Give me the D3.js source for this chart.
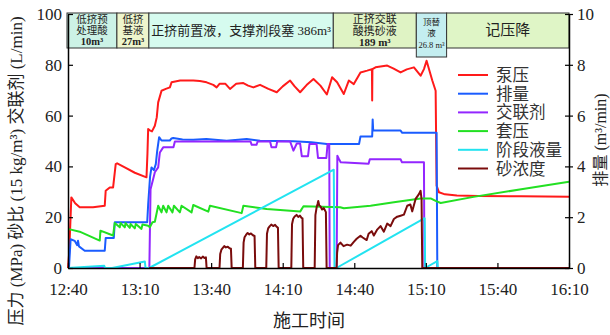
<!doctype html>
<html>
<head>
<meta charset="UTF-8">
<title>施工曲线</title>
<script src="https://cdn.jsdelivr.net/npm/d3@7"></script>
<style>
    body { margin: 0; background: #fff; }
    svg { font-family: "Liberation Serif", "Noto Sans CJK SC", serif; }
</style>
</head>
<body>
<svg width="610" height="335"></svg>
<script>
// time in minutes after 12:40
var timeTicks = [0, 30, 60, 90, 120, 150, 180, 210];
var timeLabels = ["12:40", "13:10", "13:40", "14:10", "14:40", "15:10", "15:40", "16:10"];
var leftTicks = [0, 20, 40, 60, 80, 100];
var rightTicks = [0, 2, 4, 6, 8, 10];

var seriesNames = ["泵压", "排量", "交联剂", "套压", "阶段液量", "砂浓度"];
var seriesColors = ["#ff1a1a", "#1a5cff", "#9326ff", "#22e022", "#22e3f0", "#7a0c0c"];

// stage band
var stageStart = [-0.5, 20.5, 33.9, 111.2, 146, 158.7];
var stageEnd = [20.5, 33.9, 111.2, 146, 158.7, 210];
var stageFill = ["#ccf2e6", "#eef5cc", "#d6fbef", "#dff3c4", "#c4eef0", "#dff5c6"];
var stageText = [
    ["低挤预", "处理酸", "10m³"],
    ["低挤", "基液", "27m³"],
    ["正挤前置液，支撑剂段塞 386m³"],
    ["正挤交联", "酸携砂液", "189 m³"],
    ["顶替", "液", "26.8 m³"],
    ["记压降"]
];

var pumpPressure = [[0,0],[0.5,6],[1.4,27.8],[3,25.5],[4.9,23.9],[10.5,23.9],[15.4,24.5],[15.8,30.4],[17.5,31.7],[18.9,31.7],
    [20,40.9],[20.6,41.2],[24,39.5],[28,37.5],[32.9,35.7],[33.3,45],[33.6,54.7],[34.3,54.2],[35.2,53.8],[36.4,56],
    [37.2,59.3],[37.8,65.2],[39.2,69.8],[41,70.5],[42.7,71.1],[43.4,73.1],[47,73.8],[52.5,73.8],[55.3,73.6],[58.1,73.1],
    [60.9,72.1],[62.3,71.1],[63.5,72.5],[66,72.5],[67.9,70.5],[70.5,72.5],[73.5,72.8],[75.5,71.8],[77.7,71.1],[80.5,72.1],
    [84,70.5],[87.5,69.2],[90,71.5],[93.1,73.8],[95,71.5],[97.3,69.2],[100,72],[102.9,74.4],[105.8,71.8],[108.5,68.3],
    [110.7,75.1],[112.8,73.1],[115.6,68.5],[117.7,73.8],[119.8,72.4],[122.6,77],[125.4,77.7],[127.4,78.3],[127.5,65.9],[127.6,78.3],
    [128.9,79],[133.8,79.7],[136.5,78.5],[139.4,77],[142,78.2],[145,79],[147.8,75.7],[149.2,78.3],[150.3,81.6],[152.7,73.8],
    [154.1,69.8],[154.5,32.4],[155.5,29.8],[158,29],[163,28.5],[172,28.3],[190,28.2],[210,28.1]];

var rate = [[0,0],[0.4,0],[1.1,1.13],[2.8,1.07],[3.8,0.9],[4.2,1.07],[4.6,0.85],[7,0.68],[15.4,0.68],[15.8,1.18],
    [19.2,1.18],[19.6,1.8],[33.2,1.8],[33.6,2.5],[34.4,3.6],[35,3.96],[36,3.85],[36.8,4.09],[37.4,4.62],[38.2,5.15],
    [39.2,5.02],[42.7,5.02],[43.4,5.1],[44.1,5.12],[48,5.06],[52.5,5.05],[58,5.08],[66.5,5.01],[74.9,5.08],[80.5,5.01],
    [88,5.0],[94.5,4.99],[102,4.95],[108.5,4.88],[122,4.88],[122.6,5.18],[127.5,5.18],[127.7,5.85],[127.9,5.45],[128.2,5.41],
    [139.4,5.41],[140.1,5.32],[154.5,5.32],[154.8,0],[210,0]];

var crosslinker = [[0,0],[34.1,0],[34.6,31],[35.7,35],[36.4,37.7],[37.8,39.6],[38.5,45.5],[39.9,47.5],[44.2,47.5],[44.8,49.8],
    [60,49.8],[76.5,49.8],[77,48.5],[79,48.5],[79.5,49.8],[84.7,49.8],[85.3,47.5],[87.2,47.5],[87.7,49.8],[93.1,49.8],
    [94.5,46.2],[95.9,49],[97.3,49],[98,44],[100.6,44],[101.2,48.8],[104.2,48.8],[104.8,43.3],[108.3,43.3],[108.8,48.8],
    [109.5,48.8],[109.7,0],[112.6,0],[112.9,44.2],[113.5,43],[114.3,41.6],[126,41],[126.5,42.8],[139.4,42.8],[140,41.6],
    [149.2,41.6],[149.4,0],[210,0]];

var casingPressure = [[0.4,15.3],[4.9,14.3],[13.3,10.8],[13.6,14.7],[18.9,12.8],[19.6,17.7],[21.7,16],[22,17.7],[23.8,16],[24.1,17.7],
    [25.9,15.8],[26.2,17.3],[28,15.6],[28.4,17.3],[30.8,15.4],[31.2,17.1],[33.6,16.6],[34.3,16],[35.4,18],[36.4,18.2],
    [37.8,24.5],[39.2,21.9],[39.9,24.5],[41.3,21.9],[42,24.5],[43.8,21.9],[44.4,24.5],[46.9,21.9],[47.6,24.5],[51.8,21.9],
    [52.5,24.8],[58.8,22.2],[59.5,24.5],[72.8,21.6],[73.5,24.5],[83.3,23.2],[97.3,22.2],[98.7,24.3],[114.1,23.9],[115.6,23.5],
    [126.8,24.5],[136.6,25.9],[147.8,27.4],[152,27.4],[154.1,26.4],[156.2,25.6],[170,28],[190,31],[210,34]];

var stageVolume = [[0,0],[15.2,0.9],[15.5,0],[18.5,0],[32.2,2.6],[32.5,0],[34,0],[111.4,38.7],[111.7,0],[112.5,0],
    [149.5,19.6],[149.7,0],[154.8,2.7],[155,0],[210,0]];

var sandRatio = [[34,0],[53,0],[53.3,3.4],[53.8,4.6],[54.4,3.9],[55,4.3],[55.8,3.8],[56.5,4.5],[57.2,3.9],[57.8,4.2],[58.1,0],
    [63.5,0],[63.8,5.5],[64.3,7.2],[64.9,7.9],[65.5,8.6],[66.2,8.1],[67,8.4],[67.7,7.8],[68.3,7.6],[68.6,0],
    [73.3,0],[73.6,10],[74,12.1],[74.6,13],[75.3,13.8],[76,13.2],[76.7,13.6],[77.5,12.9],[78.2,12.6],[78.5,0],
    [83.1,0],[83.4,13.5],[83.9,15.6],[84.5,16.4],[85.2,17.1],[86,16.5],[86.8,17],[87.5,16.2],[88,15.8],[88.3,0],
    [93.6,0],[93.9,17.2],[94.4,19.4],[95,20.3],[95.8,20.9],[96.5,20.1],[97.2,20.6],[97.9,19.7],[98.3,19.5],[98.6,0],
    [103.4,0],[103.7,20.8],[104.2,23.8],[104.6,25.2],[104.9,26.4],[105.3,24.6],[105.8,24.3],[106.5,23],[107.2,23.6],[108.1,22],[108.4,0],
    [112.6,0],[112.8,6],[113.2,9],[114.2,10],[115.5,8.6],[117,9.2],
    [118.5,8.8],[119.8,10.3],[121,11.5],[122.6,12.7],[123.5,12],[125.2,11],[126,13.5],[127.3,14.5],[128.2,12.8],[129.5,15],
    [131,16.5],[132.4,14.3],[133.8,17.5],[135.2,16.5],[136.6,19.3],[138,20.2],[139.4,20.6],[140.8,21],[142.2,24.5],[143.5,25],
    [144.3,22.3],[145.7,27.2],[147.1,29.1],[147.8,30.4],[148.2,27],[148.5,0],[210,0]];

var svg = d3.select("svg");
var plotL = 68, plotR = 569, plotT = 14, plotB = 268;

var x = d3.scaleLinear().domain([0, 210]).range([plotL, plotR]);
var yL = d3.scaleLinear().domain([0, 100]).range([plotB, plotT]);
var yR = d3.scaleLinear().domain([0, 10]).range([plotB, plotT]);

// series
var data = [
    {vals: pumpPressure, y: yL},
    {vals: rate, y: yR},
    {vals: crosslinker, y: yL},
    {vals: casingPressure, y: yL},
    {vals: stageVolume, y: yL},
    {vals: sandRatio, y: yL}
];
data.forEach(function(d, i) {
    var line = d3.line()
        .x(function(p) { return x(p[0]); })
        .y(function(p) { return d.y(p[1]); });
    svg.append("path")
        .attr("d", line(d.vals))
        .attr("fill", "none")
        .attr("stroke", seriesColors[i])
        .attr("stroke-width", 2)
        .attr("stroke-linejoin", "round");
});

// stage band
var band = svg.append("g");
stageStart.forEach(function(s, i) {
    var x0 = Math.max(x(s), plotL - 1), x1 = x(stageEnd[i]);
    var h = i == 4 ? 44 : 35;
    band.append("rect")
        .attr("x", x0).attr("y", 13).attr("width", x1 - x0).attr("height", h)
        .attr("fill", stageFill[i]).attr("stroke", "#333").attr("stroke-width", 1);
    var lines = stageText[i];
    var cx = (x0 + x1) / 2;
    var fs = [10.5, 10.5, 13, 11, 8.5, 15][i];
    var lh = [11, 11, 0, 11.5, 11, 0][i];
    lines.forEach(function(t, j) {
        var yy = lines.length == 1 ? 35 : 23 + j * lh;
        if (i == 4) yy = 25 + j * lh + (j == 2 ? 1 : 0);
        band.append("text")
            .attr("x", cx).attr("y", yy)
            .attr("text-anchor", "middle")
            .attr("font-size", fs + "px")
            .attr("font-weight", (j == 2 && i != 4) ? "bold" : "normal")
            .attr("fill", "#222")
            .text(t);
    });
});

// axes
var gx = svg.append("g").attr("transform", "translate(0," + plotB + ")")
    .call(d3.axisBottom(x).tickValues(timeTicks)
        .tickFormat(function(d, i) { return timeLabels[i]; })
        .tickSizeInner(-5).tickSizeOuter(0).tickPadding(15));
var gl = svg.append("g").attr("transform", "translate(" + plotL + ",0)")
    .call(d3.axisLeft(yL).tickValues(leftTicks).tickSizeInner(-5).tickSizeOuter(0).tickPadding(6));
var gr = svg.append("g").attr("transform", "translate(" + plotR + ",0)")
    .call(d3.axisRight(yR).tickValues(rightTicks).tickSizeInner(4).tickSizeOuter(0).tickPadding(4));
gr.selectAll(".tick").append("line").attr("x1", 0).attr("x2", -4).attr("stroke", "#000");

[gx, gl, gr].forEach(function(g) {
    g.selectAll("text").attr("font-size", "17px").attr("fill", "#222")
        .attr("font-family", "Liberation Serif, serif");
    g.select(".domain").attr("stroke", "#000").attr("stroke-width", 1.5);
    g.selectAll(".tick line").attr("stroke", "#000").attr("stroke-width", 1.2);
});

// titles
svg.append("text")
    .attr("transform", "translate(22,171) rotate(-90)")
    .attr("text-anchor", "middle").attr("font-size", "17px").attr("fill", "#222")
    .text("压力 (MPa) 砂比 (15 kg/m³) 交联剂 (L/min)");
svg.append("text")
    .attr("transform", "translate(606,140) rotate(-90)")
    .attr("text-anchor", "middle").attr("font-size", "16px").attr("fill", "#222")
    .text("排量 (m³/min)");
svg.append("text")
    .attr("x", 309).attr("y", 327)
    .attr("text-anchor", "middle").attr("font-size", "18px").attr("fill", "#222")
    .text("施工时间");

// legend
var legend = svg.append("g");
seriesNames.forEach(function(n, i) {
    var yy = 75 + i * 18.7;
    legend.append("line")
        .attr("x1", 458).attr("x2", 488).attr("y1", yy).attr("y2", yy)
        .attr("stroke", seriesColors[i]).attr("stroke-width", 2);
    legend.append("text")
        .attr("x", 496).attr("y", yy + 6)
        .attr("font-size", "16.5px").attr("fill", "#333")
        .text(n);
});
</script>
</body>
</html>
